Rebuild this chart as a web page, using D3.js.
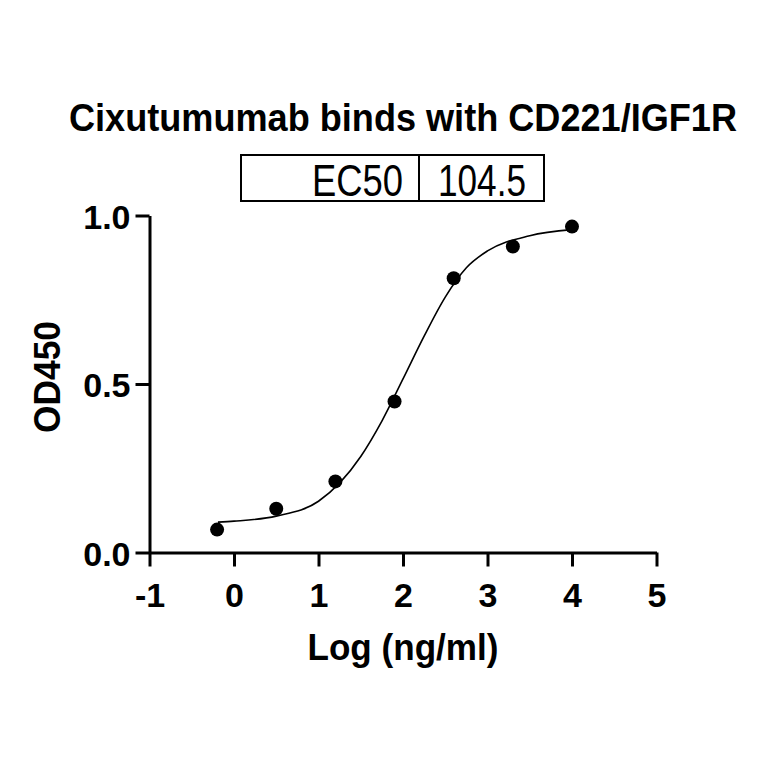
<!DOCTYPE html>
<html>
<head>
<meta charset="utf-8">
<script src="https://cdn.jsdelivr.net/npm/d3@7"></script>
<style>
  body { margin: 0; background: #fff; }
  text { font-family: "Liberation Sans", Arial, sans-serif; fill: #000; }
</style>
</head>
<body>
<div id="chart-area"></div>
<script>
// measured points, log10 concentration vs OD450
var logConc = [-0.2, 0.5, 1.2, 1.9, 2.6, 3.3, 4.0];
var od450 = [0.068, 0.130, 0.211, 0.448, 0.814, 0.908, 0.967];

// fitted curve
var curveX = [-0.19, 0, 0.5, 1.0, 1.5, 1.75, 2.0, 2.25, 2.5, 2.75, 3.0, 3.5, 4.0];
var curveY = [0.090, 0.093, 0.108, 0.152, 0.285, 0.390, 0.515, 0.642, 0.758, 0.845, 0.895, 0.940, 0.958];

var xTicks = [-1, 0, 1, 2, 3, 4, 5];
var yTicks = [0, 0.5, 1.0];

var titleText = "Cixutumumab binds with CD221/IGF1R";
var ec50Label = "EC50";
var ec50Value = "104.5";
var xLabelText = "Log (ng/ml)";
var yLabelText = "OD450";

var svg = d3.select("#chart-area")
    .append("svg")
    .attr("width", 764)
    .attr("height", 764);

var x = d3.scaleLinear()
    .domain([-1, 5])
    .range([149.5, 656.5]);

var y = d3.scaleLinear()
    .domain([0, 1])
    .range([552.5, 215.5]);

// title
svg.append("text")
    .attr("x", 403)
    .attr("y", 131)
    .attr("text-anchor", "middle")
    .attr("font-size", "38px")
    .attr("font-weight", "bold")
    .attr("textLength", 668)
    .attr("lengthAdjust", "spacingAndGlyphs")
    .text(titleText);

// EC50 table
var box = svg.append("g");
box.append("rect")
    .attr("x", 241).attr("y", 155)
    .attr("width", 303).attr("height", 46)
    .attr("fill", "none")
    .attr("stroke", "#000")
    .attr("stroke-width", 2);
box.append("line")
    .attr("x1", 419).attr("x2", 419)
    .attr("y1", 155).attr("y2", 201)
    .attr("stroke", "#000")
    .attr("stroke-width", 2);
box.append("text")
    .attr("x", 403)
    .attr("y", 196)
    .attr("text-anchor", "end")
    .attr("font-size", "44px")
    .attr("textLength", 91)
    .attr("lengthAdjust", "spacingAndGlyphs")
    .text(ec50Label);
box.append("text")
    .attr("x", 438)
    .attr("y", 196)
    .attr("font-size", "44px")
    .attr("textLength", 88)
    .attr("lengthAdjust", "spacingAndGlyphs")
    .text(ec50Value);

// X axis
var xAxisCall = d3.axisBottom(x)
    .tickValues(xTicks)
    .tickSize(14)
    .tickSizeOuter(0)
    .tickPadding(5)
    .tickFormat(function (d) { return String(d); });
var xAxis = svg.append("g")
    .attr("transform", "translate(0," + y(0) + ")")
    .call(xAxisCall);

// Y axis
var yAxisCall = d3.axisLeft(y)
    .tickValues(yTicks)
    .tickSize(14)
    .tickSizeOuter(0)
    .tickPadding(5)
    .tickFormat(d3.format(".1f"));
var yAxis = svg.append("g")
    .attr("transform", "translate(" + x(-1) + ",0)")
    .call(yAxisCall);

[xAxis, yAxis].forEach(function (a) {
    a.select(".domain").attr("stroke-width", 3).attr("stroke", "#000");
    a.selectAll(".tick line").attr("stroke-width", 3).attr("stroke", "#000");
    a.selectAll(".tick text")
        .attr("font-family", "Liberation Sans, Arial, sans-serif")
        .attr("font-weight", "bold")
        .attr("fill", "#000");
});
xAxis.selectAll(".tick text").attr("font-size", "34px").attr("dy", "1.03em");
yAxis.selectAll(".tick text").attr("font-size", "34px").attr("dy", "0.38em");

// axis labels
svg.append("text")
    .attr("x", 403)
    .attr("y", 660)
    .attr("text-anchor", "middle")
    .attr("font-size", "37px")
    .attr("font-weight", "bold")
    .attr("textLength", 191)
    .attr("lengthAdjust", "spacingAndGlyphs")
    .text(xLabelText);

svg.append("text")
    .attr("transform", "translate(60,377) rotate(-90)")
    .attr("text-anchor", "middle")
    .attr("font-size", "37px")
    .attr("font-weight", "bold")
    .attr("textLength", 112)
    .attr("lengthAdjust", "spacingAndGlyphs")
    .text(yLabelText);

// fitted curve
var curveData = curveX.map(function (d, i) { return [d, curveY[i]]; });
var line = d3.line()
    .x(function (d) { return x(d[0]); })
    .y(function (d) { return y(d[1]); })
    .curve(d3.curveMonotoneX);
svg.append("path")
    .datum(curveData)
    .attr("d", line)
    .attr("fill", "none")
    .attr("stroke", "#000")
    .attr("stroke-width", 1.6);

// points
svg.selectAll("circle.pt")
    .data(logConc)
    .enter()
    .append("circle")
    .attr("class", "pt")
    .attr("cx", function (d) { return x(d); })
    .attr("cy", function (d, i) { return y(od450[i]); })
    .attr("r", 7)
    .attr("fill", "#000");
</script>
</body>
</html>
